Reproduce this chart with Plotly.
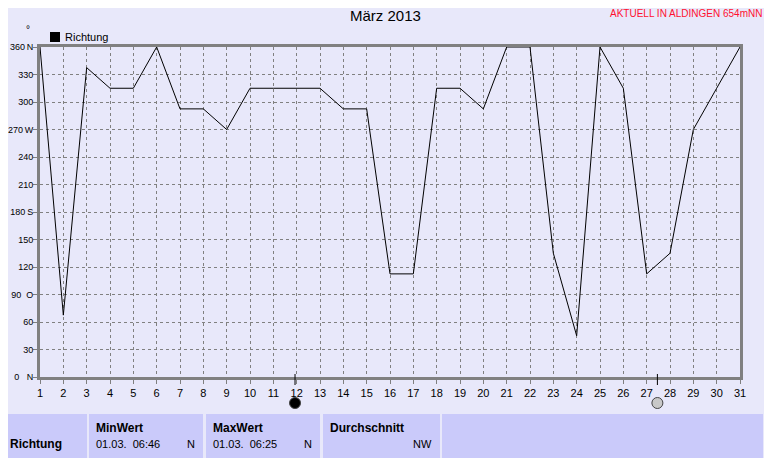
import plotly.graph_objects as go

# ---- data ----
days = list(range(1, 32))
richtung = [360, 67.5, 337.5, 315, 315, 360, 292.5, 292.5, 270, 315,
            315, 315, 315, 292.5, 292.5, 112.5, 112.5, 315, 315, 292.5,
            360, 360, 135, 45, 360, 315, 112.5, 135, 270, 315, 360]
y_tickvals = [0, 30, 60, 90, 120, 150, 180, 210, 240, 270, 300, 330, 360]
y_ticktext = ["0\u00a0\u00a0\u00a0N", "30", "60", "90\u00a0\u00a0O", "120", "150", "180\u2009S",
              "210", "240", "270\u2009W", "300", "330", "360\u2009N"]
x_ticktext = [str(d) for d in days]
moon_days = [11.93, 27.46]
moon_fill = ["#000000", "#C8C8C8"]

title = "März 2013"
subtitle = "AKTUELL IN ALDINGEN 654mNN"
legend_name = "Richtung"
table_cells = [
    {"x0": 0, "x1": 87, "head": "", "left": "", "right": ""},
    {"x0": 89, "x1": 203, "head": "MinWert", "left": "01.03.\u00a0\u00a006:46", "right": "N"},
    {"x0": 206, "x1": 320, "head": "MaxWert", "left": "01.03.\u00a0\u00a006:25", "right": "N"},
    {"x0": 323, "x1": 440, "head": "Durchschnitt", "left": "", "right": "NW"},
    {"x0": 442, "x1": 763, "head": "", "left": "", "right": ""},
]

# ---- layout geometry (screen pixels; page body has an 8px default margin) ----
SCREEN_W, SCREEN_H = 772, 458
OFF = 8
W, H = SCREEN_W - OFF, SCREEN_H - OFF
L, R, T, B = 40, 740, 47, 377
BG = "#E8E8FA"
CELL = "#CACAFA"
FONT = "Liberation Sans, Arial, sans-serif"


def px(x):
    return (x - L) / (R - L)


def py(y):
    return (B - y) / (B - T)


fig = go.Figure()

fig.add_trace(go.Scatter(x=days, y=richtung, mode="lines",
                         line=dict(color="#000000", width=1),
                         name=legend_name, showlegend=False, hoverinfo="x+y"))

shapes = []
for cell in table_cells:
    shapes.append(dict(type="rect", xref="paper", yref="paper",
                       x0=px(cell["x0"]), x1=px(cell["x1"]),
                       y0=py(470), y1=py(414), fillcolor=CELL,
                       line=dict(width=0), layer="below"))
shapes.append(dict(type="rect", xref="paper", yref="paper",
                   x0=px(50), x1=px(60), y0=py(42), y1=py(32),
                   fillcolor="#000000", line=dict(width=0)))
for d, c in zip(moon_days, moon_fill):
    shapes.append(dict(type="line", xref="x", yref="paper", x0=d, x1=d,
                       y0=py(374), y1=py(385), line=dict(color="#000000", width=1)))
    shapes.append(dict(type="circle", xref="x", yref="paper", xsizemode="pixel",
                       xanchor=d, x0=-5.5, x1=5.5, y0=py(397.5), y1=py(408.5),
                       fillcolor=c, line=dict(color="#444444", width=1)))
for s in shapes:
    fig.add_shape(**s)

ann = [
    dict(text=title, x=px(385), y=py(15), xanchor="center", yanchor="middle",
         font=dict(size=15, color="#000000")),
    dict(text=subtitle, x=px(764), y=py(14), xanchor="right", yanchor="middle",
         font=dict(size=10, color="#FF1030")),
    dict(text=legend_name, x=px(63), y=py(37), xanchor="left", yanchor="middle",
         font=dict(size=11, color="#000000")),
    dict(text="°", x=px(28), y=py(29), xanchor="center", yanchor="middle",
         font=dict(size=10, color="#000000")),
    dict(text="<b>Richtung</b>", x=px(8), y=py(444), xanchor="left", yanchor="middle",
         font=dict(size=12, color="#000000")),
]
for cell in table_cells:
    if cell["head"]:
        ann.append(dict(text="<b>" + cell["head"] + "</b>", x=px(cell["x0"] + 5), y=py(428),
                        xanchor="left", yanchor="middle", font=dict(size=12, color="#000000")))
    if cell["left"]:
        ann.append(dict(text=cell["left"], x=px(cell["x0"] + 5), y=py(444),
                        xanchor="left", yanchor="middle", font=dict(size=11, color="#000000")))
    if cell["right"]:
        ann.append(dict(text=cell["right"], x=px(cell["x1"] - 6), y=py(444),
                        xanchor="right", yanchor="middle", font=dict(size=11, color="#000000")))
for a in ann:
    a.update(xref="paper", yref="paper", showarrow=False)
    fig.add_annotation(**a)

axis_common = dict(showgrid=True, gridcolor="#808080", griddash="3px,3px", gridwidth=1,
                   showline=True, linecolor="#808080", linewidth=3, mirror=True,
                   ticks="outside", ticklen=4, tickcolor="#808080",
                   zeroline=False, fixedrange=True, automargin=False)

fig.update_layout(
    width=W, height=H,
    margin=dict(l=L - OFF, r=SCREEN_W - R, t=T - OFF, b=SCREEN_H - B, pad=0, autoexpand=False),
    paper_bgcolor=BG, plot_bgcolor=BG,
    font=dict(family=FONT, size=11, color="#000000"),
    showlegend=False,
    xaxis=dict(range=[1, 31], tickvals=days, ticktext=x_ticktext,
               tickfont=dict(size=11), **axis_common),
    yaxis=dict(range=[0, 360], tickvals=y_tickvals, ticktext=y_ticktext,
               tickfont=dict(size=9), ticklabelstandoff=-2, **axis_common),
)

fig.write_html("out.html")
